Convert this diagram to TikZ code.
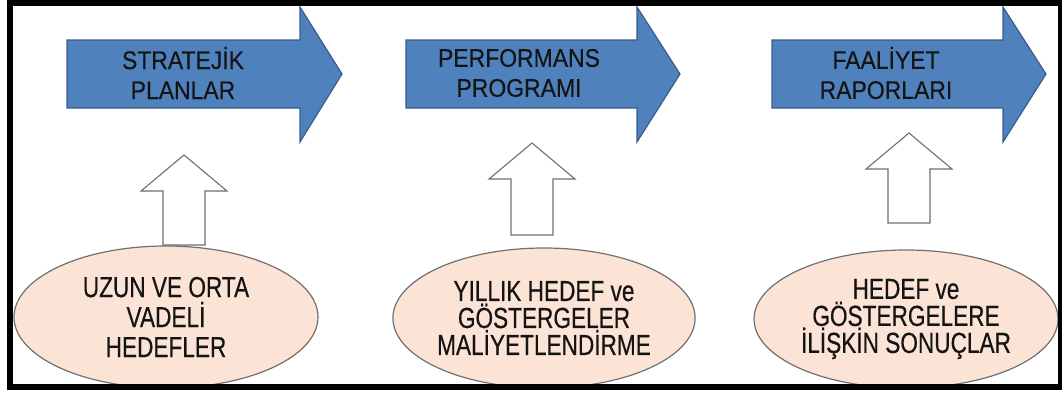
\documentclass[tikz,border=0pt]{standalone}
\usepackage{fontspec}
\setmainfont{Liberation Sans}
\newfontfamily\condfont[FakeStretch=0.78,FakeBold=0.4]{Liberation Sans}
\newfontfamily\arrfont[FakeStretch=0.9,FakeBold=0.3]{Liberation Sans}
\usetikzlibrary{shapes.geometric}
\definecolor{blueA}{HTML}{4F81BD}
\definecolor{blueB}{HTML}{385D8A}
\definecolor{peach}{HTML}{FBE4D5}
\definecolor{grayB}{HTML}{707070}
\definecolor{txt}{HTML}{141414}
\tikzset{
  bluearrow/.style={fill=blueA, draw=blueB, line width=1.2pt, line join=miter},
  uparr/.style={fill=white, draw=grayB, line width=1.1pt},
  arrtext/.style={align=center, text=txt, inner sep=0pt, font=\arrfont\fontsize{25.5}{30}\selectfont},
  goal/.style={ellipse, fill=peach, draw=grayB, line width=1.2pt, minimum width=304pt, minimum height=142pt, inner sep=0pt, align=center, text=txt, font=\condfont\fontsize{29}{27}\selectfont},
  frame/.style={draw=black, line width=6pt}
}
\newcommand{\bluearr}[3]{%
  \draw[bluearrow] (#1,40) -- (#2,40) -- (#2,7) -- (#3,74) -- (#2,142) -- (#2,108) -- (#1,108) -- cycle;}
\newcommand{\blockup}[3]{%
  \draw[uparr] ({#1-21},#3) -- ({#1-21},{#2+36}) -- ({#1-43},{#2+36}) -- (#1,#2) -- ({#1+43},{#2+36}) -- ({#1+21},{#2+36}) -- ({#1+21},#3) -- cycle;}
\begin{document}
\begin{tikzpicture}[x=1pt,y=-1pt]
\useasboundingbox (0,0) rectangle (1062,392);
% blue process arrows
\bluearr{67}{300}{342}
\bluearr{406}{637}{680}
\bluearr{772}{1003}{1046}
\node[arrtext] (sp) at (183,73) {STRATEJİK\\PLANLAR};
\node[arrtext] (pp) at (519,73) {PERFORMANS\\PROGRAMI};
\node[arrtext] (fr) at (886,73) {FAALİYET\\RAPORLARI};
% white up arrows
\blockup{184}{155}{245}
\blockup{532}{143}{235}
\blockup{909}{133}{223}
% goal ellipses
\node[goal, font=\condfont\fontsize{29}{30}\selectfont] (e1) at (166,317) {UZUN VE ORTA\\VADELİ\\HEDEFLER};
\node[goal, minimum width=298pt, minimum height=140pt] (e2) at (544,318) {YILLIK HEDEF ve\\GÖSTERGELER\\MALİYETLENDİRME};
\node[goal, minimum height=138pt] (e3) at (906,319) {HEDEF ve\\GÖSTERGELERE\\İLİŞKİN SONUÇLAR};
% outer frame
\draw[frame] (10,2.5) rectangle (1061,387);
\end{tikzpicture}
\end{document}
